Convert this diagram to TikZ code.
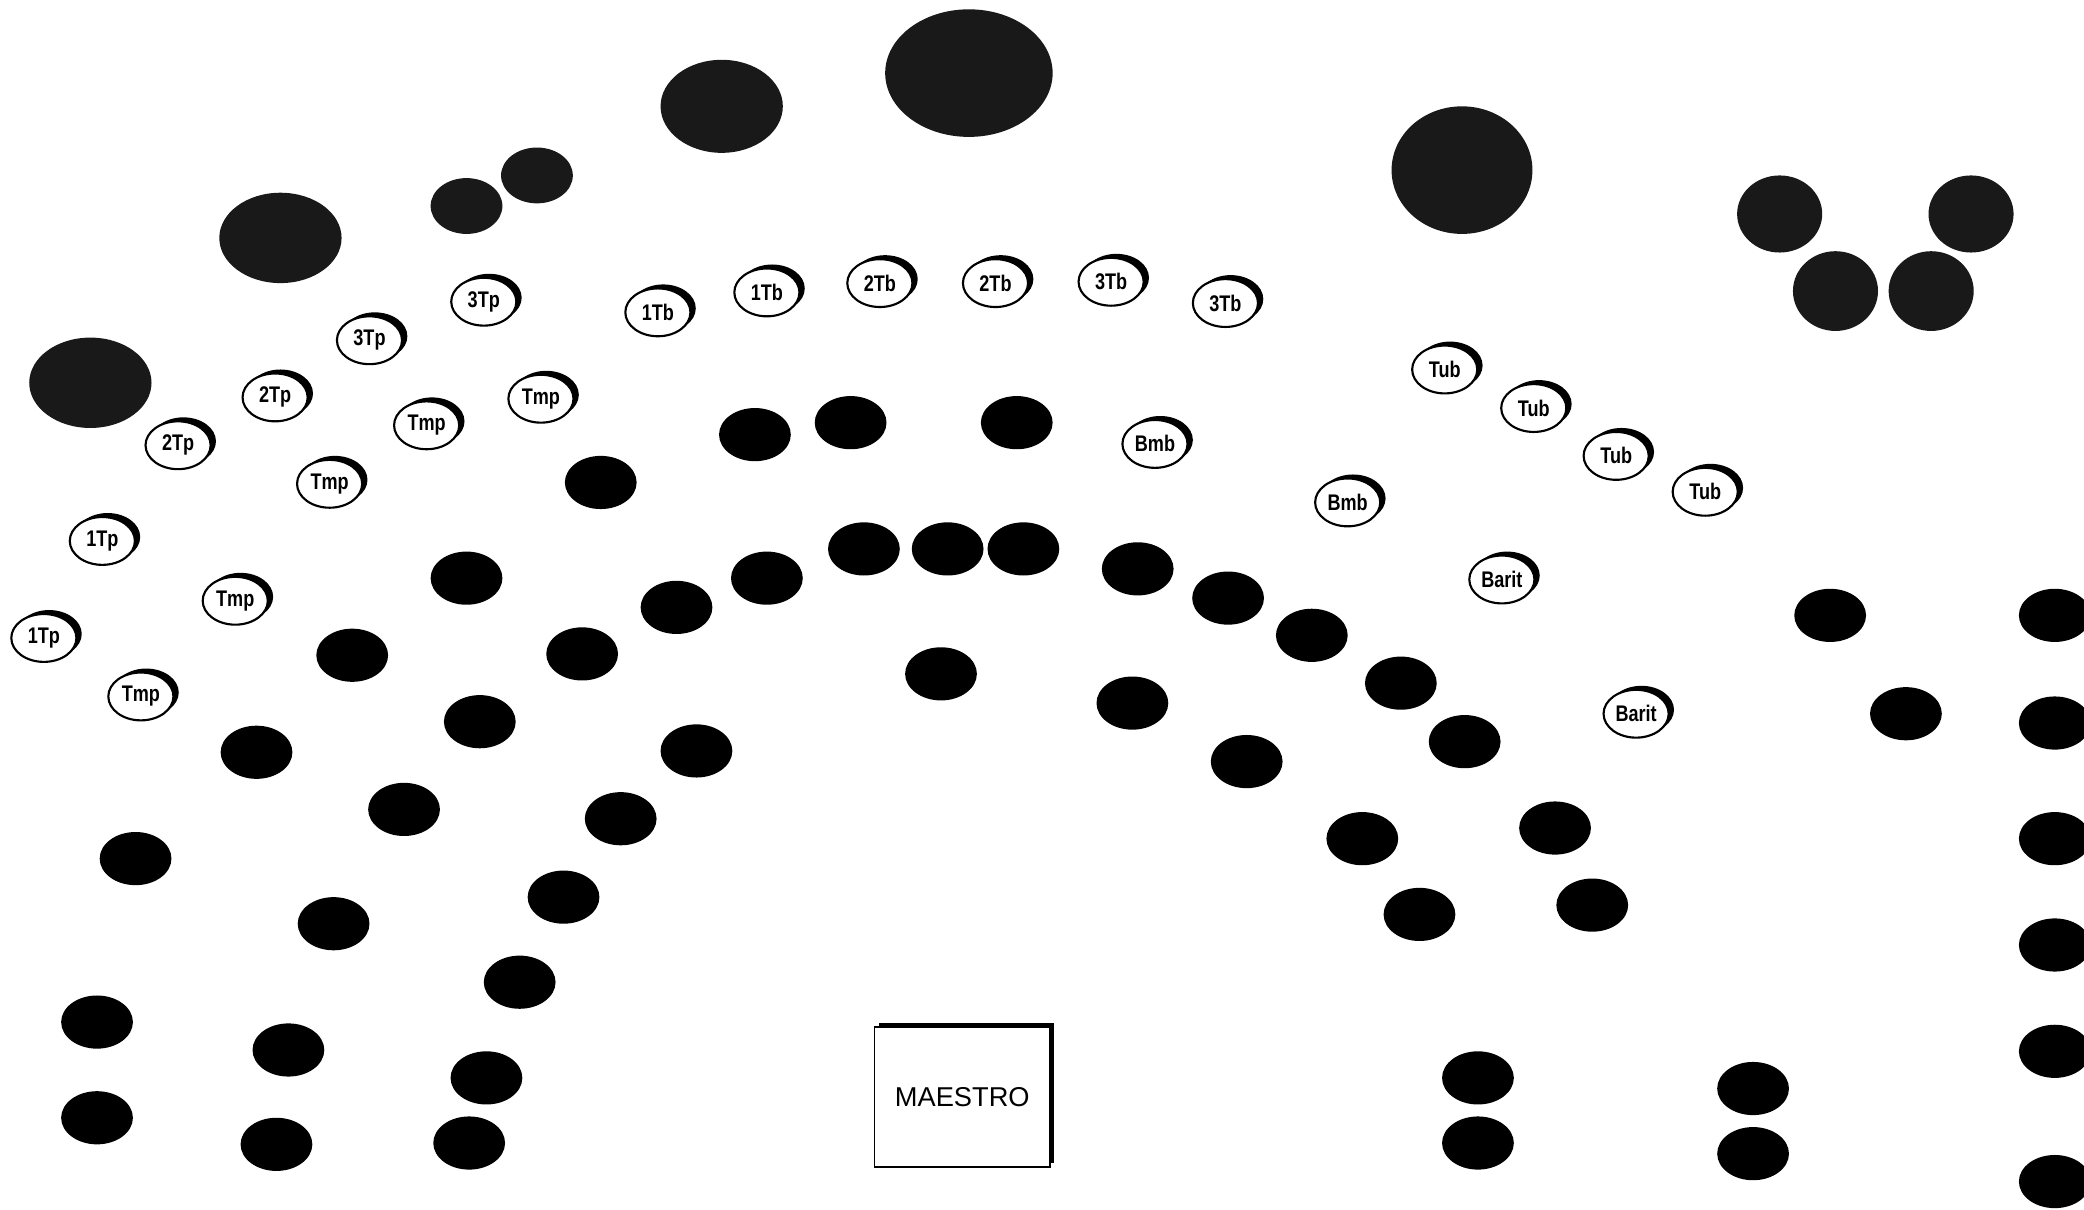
\documentclass[tikz,border=0pt]{standalone}
\usepackage{fontspec}
\setmainfont{Liberation Sans}
\newfontfamily\labfont[FakeStretch=0.8]{Liberation Sans Bold}
\usetikzlibrary{shapes.geometric}
\begin{document}
\begin{tikzpicture}[x=1pt,y=-1pt,
  seat/.style={fill=black},
  bigseat/.style={fill=black!90},
  labshadow/.style={fill=black},
  lab/.style={ellipse,draw=black,fill=white,line width=1.6pt,minimum width=49pt,minimum height=36pt,inner sep=0pt,font=\labfont\fontsize{17}{17}\selectfont},
  maestro/.style={draw=black,fill=white,line width=1.4pt,minimum width=132pt,minimum height=105pt,inner sep=0pt,font=\fontsize{20.5}{20.5}\selectfont}]
\useasboundingbox (0,0) rectangle (1568,910);
\clip (0,0) rectangle (1568,910);
\fill[white] (0,0) rectangle (1568,910);
% large dark ellipses
\foreach \x/\y/\a/\b [count=\i] in {68/288/46/34, 211/179/46/34, 543/80/46/35, 729/55/63/48, 1100/128/53/48,
  1339/161/32/29, 1483/161/32/29, 1381/219/32/30, 1453/219/32/30, 351/155/27/21, 404/132/27/21}
  \fill[bigseat] (\x,\y) ellipse [x radius=\a, y radius=\b] coordinate (big\i);
% small black seats
\foreach \x/\y [count=\i] in {568/327, 640/318, 765/318, 452/363, 351/435, 265/493, 193/566, 102/646,
  73/769, 73/841, 217/790, 208/861, 353/860, 366/811, 391/739, 424/675, 467/616, 524/565,
  438/492, 361/543, 304/609, 251/695, 509/457, 577/435, 650/413, 713/413, 770/413, 708/507,
  856/428, 924/450, 987/478, 1054/514, 1102/558, 852/529, 938/573, 1025/631, 1068/688,
  1170/623, 1198/681, 1112/811, 1112/860, 1319/819, 1319/868, 1377/463, 1434/537,
  1546/463, 1546/544, 1546/631, 1546/711, 1546/791, 1546/889}
  \fill[seat] (\x,\y) ellipse [x radius=27, y radius=20] coordinate (s\i);
% labelled seats
\foreach \x/\y/\t [count=\i] in {77/407/1Tp, 33/480/1Tp, 134/335/2Tp, 207/299/2Tp, 278/256/3Tp, 364/227/3Tp,
  248/364/Tmp, 321/320/Tmp, 407/300/Tmp, 177/452/Tmp, 106/524/Tmp,
  495/235/1Tb, 577/220/1Tb, 662/213/2Tb, 749/213/2Tb, 836/212/3Tb, 922/228/3Tb,
  869/334/Bmb, 1014/378/Bmb, 1087/278/Tub, 1154/307/Tub, 1216/343/Tub, 1283/370/Tub,
  1130/436/Barit, 1231/537/Barit}
  {
  \fill[labshadow] (\x+4,\y-3) ellipse [x radius=24.5, y radius=18];
  \node[lab] (l\i) at (\x,\y) {\t};
  }
% maestro box
\fill[black] (661,770) rectangle (793,875);
\node[maestro] (m) at (724,825.5) {MAESTRO};
\end{tikzpicture}
\end{document}
